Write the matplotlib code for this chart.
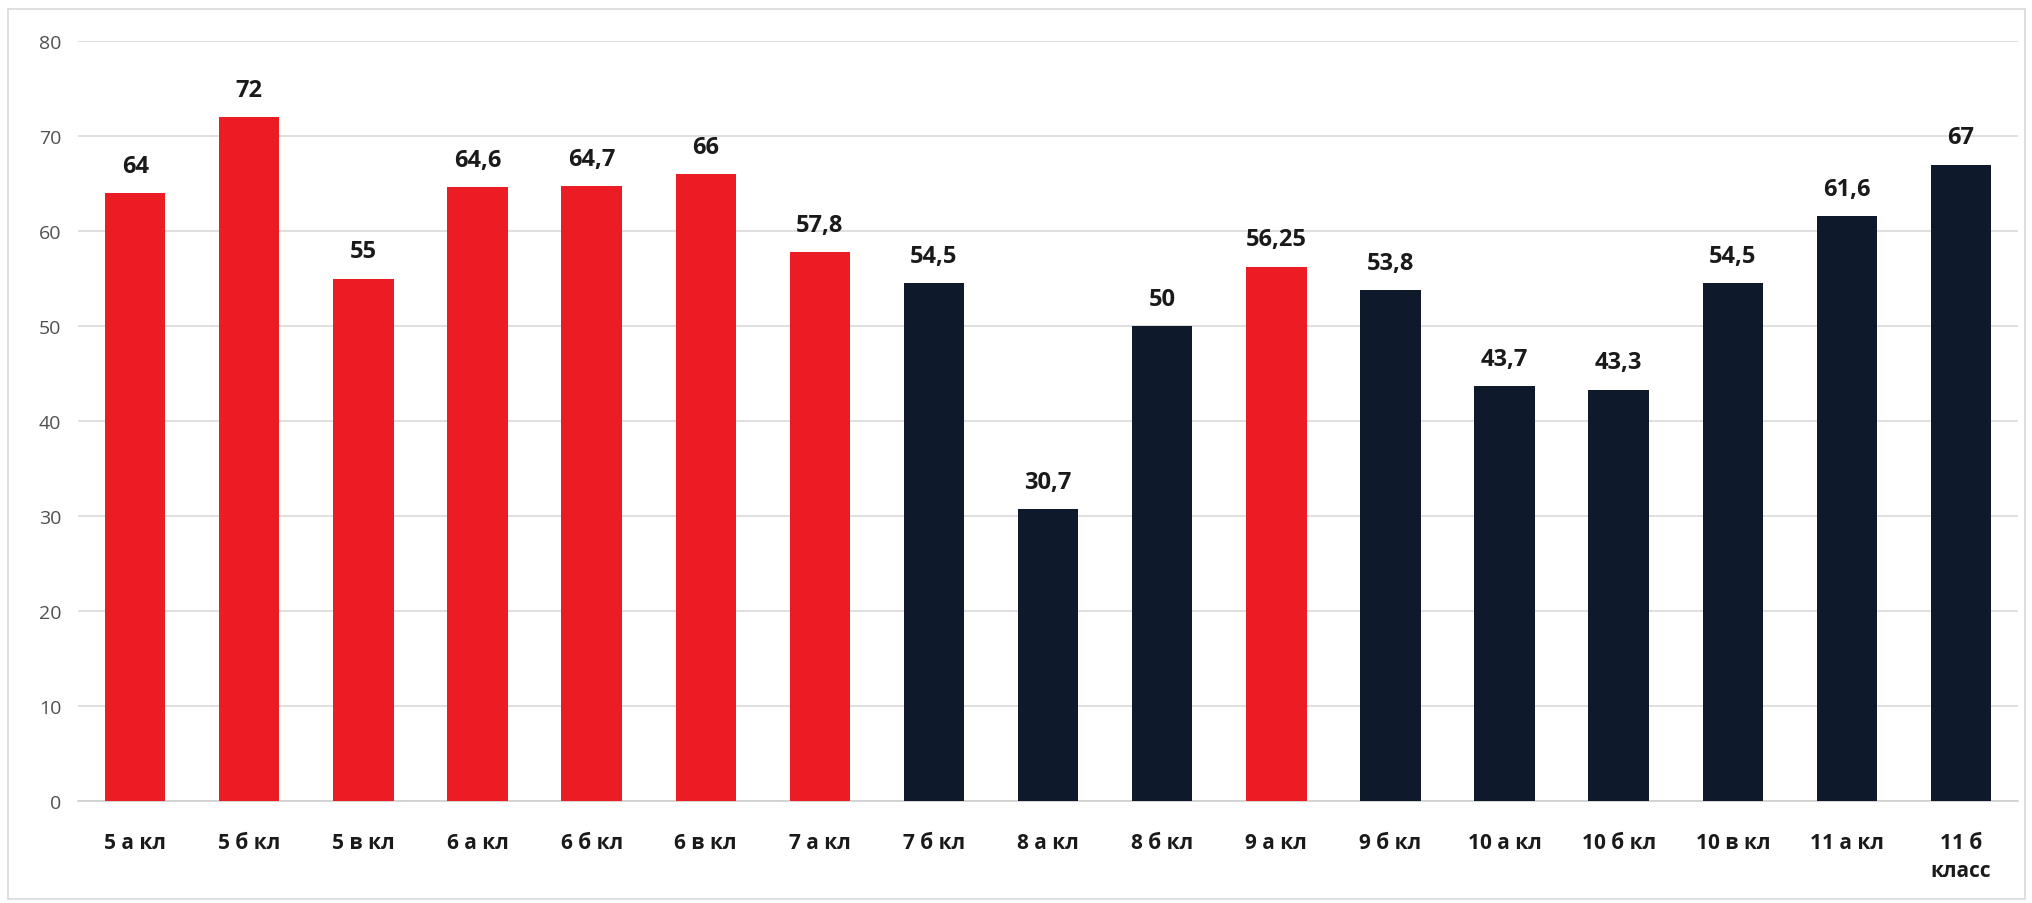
import matplotlib
matplotlib.use("Agg")
import matplotlib.pyplot as plt
from matplotlib.patches import Rectangle

categories = ["5 а кл", "5 б кл", "5 в кл", "6 а кл", "6 б кл", "6 в кл", "7 а кл",
              "7 б кл", "8 а кл", "8 б кл", "9 а кл", "9 б кл", "10 а кл", "10 б кл",
              "10 в кл", "11 а кл", "11 б\nкласс"]
values = [64, 72, 55, 64.6, 64.7, 66, 57.8, 54.5, 30.7, 50, 56.25, 53.8, 43.7, 43.3,
          54.5, 61.6, 67]
is_red = [1, 1, 1, 1, 1, 1, 1, 0, 0, 0, 1, 0, 0, 0, 0, 0, 0]
yticks = [0, 10, 20, 30, 40, 50, 60, 70, 80]

RED = "#EC1C24"
DARK = "#0E1A2C"

plt.rcParams['font.family'] = ['Open Sans', 'DejaVu Sans']

fig = plt.figure(figsize=(20.33, 9.04), dpi=100)
ax = fig.add_axes([0.0384, 0.1128, 0.9543, 0.8407])

x = list(range(len(categories)))
colors = [RED if r else DARK for r in is_red]
bars = ax.bar(x, values, width=0.53, color=colors, zorder=3)

for xi, v in zip(x, values):
    s = ("%g" % v).replace(".", ",")
    ax.annotate(s, (xi, v), xytext=(0, 11), textcoords="offset points",
                ha="center", va="bottom", fontsize=17, fontweight="bold",
                color="#1a1a1a")

ax.set_xlim(-0.5, len(categories) - 0.5)
ax.set_ylim(0, 80)
ax.set_yticks(yticks)
ax.set_yticklabels([str(t) for t in yticks], fontsize=14, color="#505050")
ax.set_xticks(x)
ax.set_xticklabels(categories, fontsize=15, fontweight="bold", color="#1a1a1a",
                   linespacing=1.45)
ax.tick_params(axis="both", length=0)
ax.tick_params(axis="x", pad=22)
ax.tick_params(axis="y", pad=12)
ax.grid(axis="y", color="#D9D9D9", linewidth=1.2, zorder=0)
for sp in ["left", "right", "top"]:
    ax.spines[sp].set_visible(False)
ax.spines["bottom"].set_color("#D0D0D0")
ax.spines["bottom"].set_linewidth(1.2)

fig.patches.append(Rectangle((0.004, 0.004), 0.992, 0.985, transform=fig.transFigure,
                             fill=False, edgecolor="#D9D9D9", linewidth=1.2))

fig.savefig("out.png", dpi=100, facecolor="white")
